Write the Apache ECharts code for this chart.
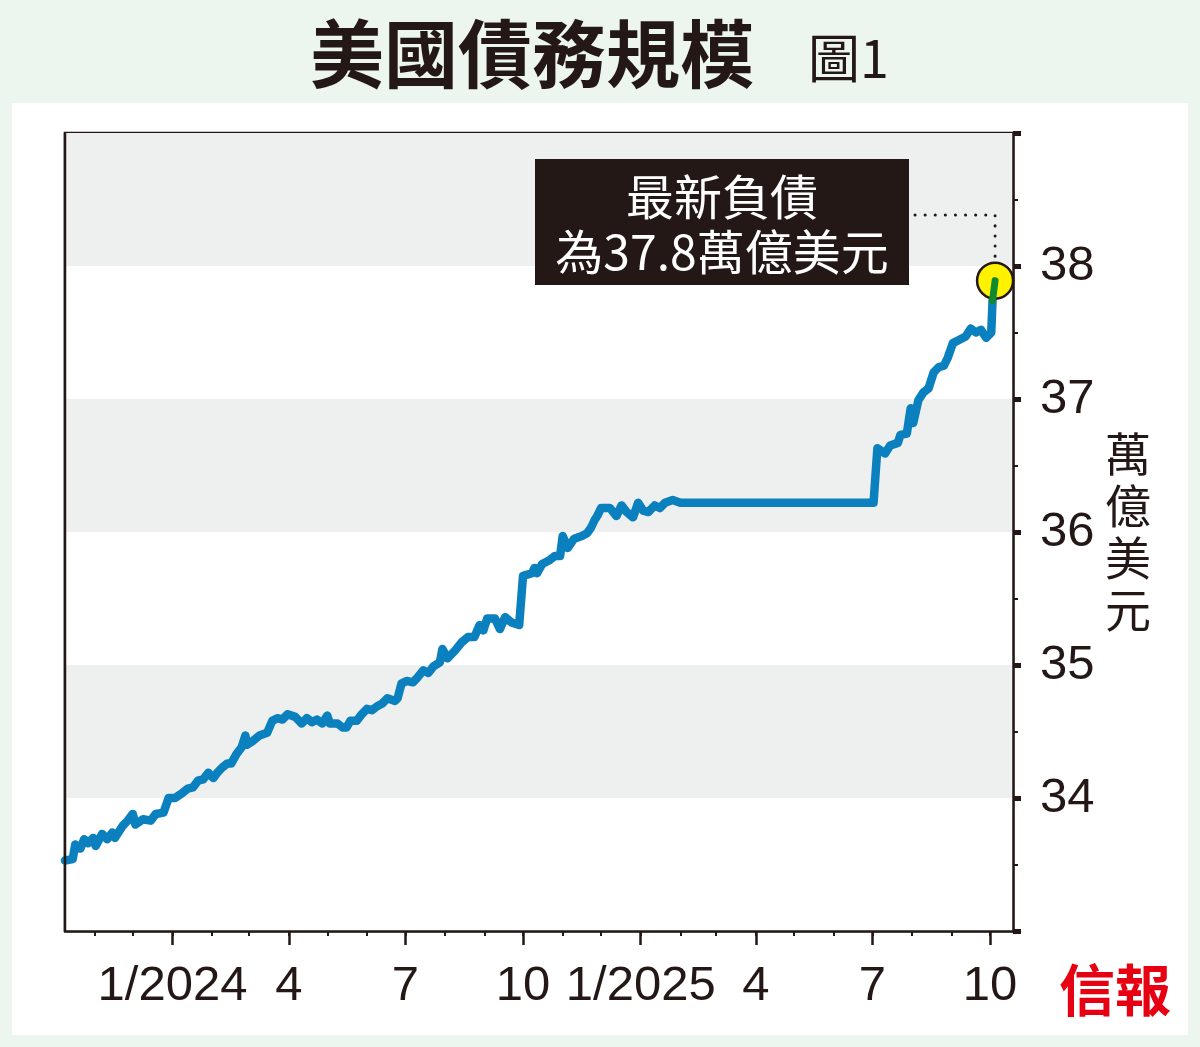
<!DOCTYPE html>
<html>
<head>
<meta charset="utf-8">
<script src="https://cdn.jsdelivr.net/npm/echarts@6/dist/echarts.min.js"></script>
<style>
  html, body { margin: 0; padding: 0; background: #edf5ef; }
  #chart { width: 1200px; height: 1047px; }
</style>
</head>
<body>
<div id="chart"></div>
<script>
// 美國債務規模 (萬億美元)
const dates = [
  '2023-10-09', '2023-10-15', '2023-10-17', '2023-10-21', '2023-10-24', '2023-10-27', '2023-10-31',
  '2023-11-02', '2023-11-07', '2023-11-11', '2023-11-15', '2023-11-17', '2023-11-23', '2023-11-27',
  '2023-12-01', '2023-12-03', '2023-12-09', '2023-12-15', '2023-12-19', '2023-12-25', '2023-12-29',
  '2024-01-03', '2024-01-09', '2024-01-13', '2024-01-17', '2024-01-21', '2024-01-25', '2024-01-29',
  '2024-02-02', '2024-02-05', '2024-02-09', '2024-02-13', '2024-02-16', '2024-02-20', '2024-02-24',
  '2024-02-27', '2024-02-28', '2024-03-04', '2024-03-09', '2024-03-15', '2024-03-19', '2024-03-23',
  '2024-03-27', '2024-03-31', '2024-04-06', '2024-04-11', '2024-04-15', '2024-04-19', '2024-04-23',
  '2024-04-27', '2024-05-01', '2024-05-03', '2024-05-09', '2024-05-13', '2024-05-16', '2024-05-19',
  '2024-05-24', '2024-05-28', '2024-06-01', '2024-06-05', '2024-06-09', '2024-06-13', '2024-06-17',
  '2024-06-23', '2024-06-25', '2024-06-28', '2024-07-02', '2024-07-07', '2024-07-10', '2024-07-15',
  '2024-07-19', '2024-07-23', '2024-07-28', '2024-07-30', '2024-08-03', '2024-08-09', '2024-08-14',
  '2024-08-19', '2024-08-24', '2024-08-28', '2024-08-31', '2024-09-03', '2024-09-09', '2024-09-13',
  '2024-09-17', '2024-09-22', '2024-09-28', '2024-10-01', '2024-10-08', '2024-10-10', '2024-10-12',
  '2024-10-16', '2024-10-22', '2024-10-26', '2024-10-30', '2024-11-01', '2024-11-05', '2024-11-10',
  '2024-11-16', '2024-11-20', '2024-11-23', '2024-11-26', '2024-11-28', '2024-12-01', '2024-12-08',
  '2024-12-13', '2024-12-17', '2024-12-21', '2024-12-26', '2024-12-30', '2025-01-03', '2025-01-07',
  '2025-01-12', '2025-01-16', '2025-01-20', '2025-01-26', '2025-02-01', '2025-03-15', '2025-05-10',
  '2025-07-02', '2025-07-05', '2025-07-11', '2025-07-15', '2025-07-21', '2025-07-23', '2025-07-28',
  '2025-07-31', '2025-08-02', '2025-08-06', '2025-08-10', '2025-08-14', '2025-08-18', '2025-08-22',
  '2025-08-26', '2025-08-29', '2025-09-02', '2025-09-06', '2025-09-12', '2025-09-16', '2025-09-20',
  '2025-09-24', '2025-09-28', '2025-10-02', '2025-10-03', '2025-10-05'
];
const debt = [
  33.53, 33.54, 33.65, 33.62, 33.69, 33.66, 33.70,
  33.64, 33.73, 33.69, 33.74, 33.70, 33.79, 33.83,
  33.88, 33.80, 33.84, 33.83, 33.88, 33.89, 34.00,
  34.00, 34.04, 34.07, 34.08, 34.13, 34.14, 34.19,
  34.15, 34.19, 34.23, 34.26, 34.26, 34.33, 34.38,
  34.47, 34.40, 34.43, 34.47, 34.49, 34.58, 34.60,
  34.59, 34.63, 34.61, 34.56, 34.60, 34.57, 34.59,
  34.56, 34.62, 34.56, 34.56, 34.53, 34.53, 34.58,
  34.58, 34.63, 34.67, 34.66, 34.69, 34.71, 34.75,
  34.73, 34.75, 34.86, 34.88, 34.87, 34.90, 34.96,
  34.94, 34.99, 35.02, 35.12, 35.05, 35.11, 35.17,
  35.21, 35.21, 35.30, 35.26, 35.35, 35.35, 35.27,
  35.36, 35.32, 35.30, 35.67, 35.69, 35.73, 35.69,
  35.76, 35.79, 35.82, 35.82, 35.97, 35.88, 35.95,
  35.97, 35.99, 36.03, 36.09, 36.12, 36.18, 36.18,
  36.12, 36.20, 36.15, 36.11, 36.22, 36.16, 36.15,
  36.20, 36.18, 36.22, 36.24, 36.22, 36.22, 36.22,
  36.22, 36.63, 36.59, 36.65, 36.67, 36.73, 36.74,
  36.93, 36.82, 36.99, 37.05, 37.08, 37.20, 37.24,
  37.25, 37.31, 37.42, 37.44, 37.47, 37.53, 37.50,
  37.52, 37.46, 37.50, 37.74, 37.89
];

// x 軸刻度
const monthTicks = [
  '2023-11-01', '2023-12-01', '2024-01-01', '2024-02-01', '2024-03-01', '2024-04-01', '2024-05-01',
  '2024-06-01', '2024-07-01', '2024-08-01', '2024-09-01', '2024-10-01', '2024-11-01', '2024-12-01',
  '2025-01-01', '2025-02-01', '2025-03-01', '2025-04-01', '2025-05-01', '2025-06-01', '2025-07-01',
  '2025-08-01', '2025-09-01', '2025-10-01'
];
const quarterTicks = ['2024-01-01', '2024-04-01', '2024-07-01', '2024-10-01', '2025-01-01', '2025-04-01', '2025-07-01', '2025-10-01'];
const quarterLabels = ['1/2024', '4', '7', '10', '1/2025', '4', '7', '10'];

const xMin = '2023-10-09';
const xMax = '2025-10-19';

const INK = '#231815';
const NUM_FONT = '"Liberation Sans Narrow", "Arial Narrow", "Liberation Sans", sans-serif';
const CJK_FONT = '"Noto Sans CJK TC", "Noto Sans CJK SC", sans-serif';

// 日期轉成時間戳 (UTC), 用數值軸畫
const toT = (s) => Date.parse(s + 'T00:00:00Z');
const labelMap = {};
quarterTicks.forEach((d, i) => { labelMap[toT(d)] = quarterLabels[i]; });

const n = dates.length;
const blueData = dates.slice(0, n - 1).map((d, i) => [toT(d), debt[i]]);
const greenData = [[toT(dates[n - 2]), debt[n - 2]], [toT(dates[n - 1]), debt[n - 1]]];

const chart = echarts.init(document.getElementById('chart'));

const option = {
  backgroundColor: '#edf5ef',
  animation: false,
  grid: {
    left: 65, right: 187, top: 133, bottom: 116,
    show: true, backgroundColor: '#ffffff', borderColor: INK, borderWidth: 2.5
  },
  xAxis: [
    {
      // 每月短刻度
      type: 'value', min: toT(xMin), max: toT(xMax),
      axisLine: { show: true, lineStyle: { color: INK, width: 2.5 } },
      axisTick: { show: true, customValues: monthTicks.map(toT), length: 5, lineStyle: { color: INK, width: 2 } },
      axisLabel: { show: false },
      splitLine: { show: false }
    },
    {
      // 每季長刻度與標籤
      type: 'value', min: toT(xMin), max: toT(xMax), position: 'bottom',
      axisLine: { show: false },
      axisTick: { show: true, customValues: quarterTicks.map(toT), length: 14, lineStyle: { color: INK, width: 2.5 } },
      axisLabel: {
        show: true, customValues: quarterTicks.map(toT),
        formatter: (v) => labelMap[v] || '',
        color: INK, fontSize: 49, fontFamily: NUM_FONT, margin: 31
      },
      splitLine: { show: false }
    }
  ],
  yAxis: {
    type: 'value', position: 'right', min: 33, max: 39, interval: 1,
    name: '萬\n億\n美\n元', nameLocation: 'middle', nameRotate: 0, nameGap: 92,
    nameTextStyle: { color: INK, fontSize: 46, fontFamily: CJK_FONT, lineHeight: 52 },
    axisLine: { show: true, lineStyle: { color: INK, width: 2.5 } },
    axisTick: { show: true, length: 8, lineStyle: { color: INK, width: 5 } },
    minorTick: { show: true, splitNumber: 2, length: 5, lineStyle: { color: INK, width: 2 } },
    axisLabel: {
      color: INK, fontSize: 49, fontFamily: NUM_FONT, margin: 27,
      formatter: (v) => (v > 33 && v < 39 ? String(v) : '')
    },
    splitLine: { show: false },
    splitArea: { show: true, areaStyle: { color: ['#ffffff', '#eef0ef'] } }
  },
  series: [
    {
      type: 'line', data: blueData, showSymbol: false, xAxisIndex: 0,
      lineStyle: { color: '#0a80be', width: 8.5, cap: 'round', join: 'round' }, z: 3
    },
    {
      type: 'line', data: greenData, xAxisIndex: 0, symbol: 'none',
      lineStyle: { color: '#0f8a2e', width: 7, cap: 'round' }, z: 6,
      markPoint: {
        symbol: 'circle', symbolSize: 36, silent: true,
        itemStyle: { color: '#fff200', borderColor: INK, borderWidth: 2.5 },
        label: { show: false },
        data: [{ coord: greenData[1] }]
      }
    }
  ]
};
chart.setOption(option);

// 標題、註解及標誌
const endPx = chart.convertToPixel({ xAxisIndex: 0, yAxisIndex: 0 }, greenData[1]);
const boxRight = 909;
const leaderY = 215;
chart.setOption({
  graphic: [
    { type: 'rect', shape: { x: 12, y: 103, width: 1176, height: 932 }, style: { fill: '#ffffff' }, z: -10, silent: true },
    // 左框線 (避免被背景帶遮住)
    {
      type: 'line', z: 10, silent: true,
      shape: { x1: 65, y1: 133, x2: 65, y2: 931 },
      style: { stroke: INK, lineWidth: 2.5 }
    },
    {
      type: 'text', x: 532, y: 54,
      style: { text: '美國債務規模', fill: INK, font: 'bold 74px ' + CJK_FONT, align: 'center', verticalAlign: 'middle' }
    },
    {
      type: 'text', x: 808, y: 58,
      style: { text: '圖1', fill: INK, font: '52px ' + CJK_FONT, align: 'left', verticalAlign: 'middle' }
    },
    { type: 'rect', shape: { x: 535, y: 159, width: boxRight - 535, height: 126 }, style: { fill: INK }, z: 20 },
    {
      type: 'text', x: 722, y: 197, z: 21,
      style: { text: '最新負債', fill: '#ffffff', font: '48px ' + CJK_FONT, align: 'center', verticalAlign: 'middle' }
    },
    {
      type: 'text', x: 722, y: 252, z: 21,
      style: { text: '為37.8萬億美元', fill: '#ffffff', font: '48px ' + CJK_FONT, align: 'center', verticalAlign: 'middle' }
    },
    {
      type: 'polyline', z: 20,
      shape: { points: [[boxRight + 6, leaderY], [endPx[0], leaderY], [endPx[0], endPx[1] - 22]] },
      style: { stroke: INK, lineWidth: 3, lineDash: [0.1, 10], lineCap: 'round', fill: null }
    },
    {
      type: 'text', x: 1115, y: 990,
      style: { text: '信報', fill: '#e60012', font: 'bold 56px ' + CJK_FONT, align: 'center', verticalAlign: 'middle' }
    }
  ]
});
</script>
</body>
</html>
